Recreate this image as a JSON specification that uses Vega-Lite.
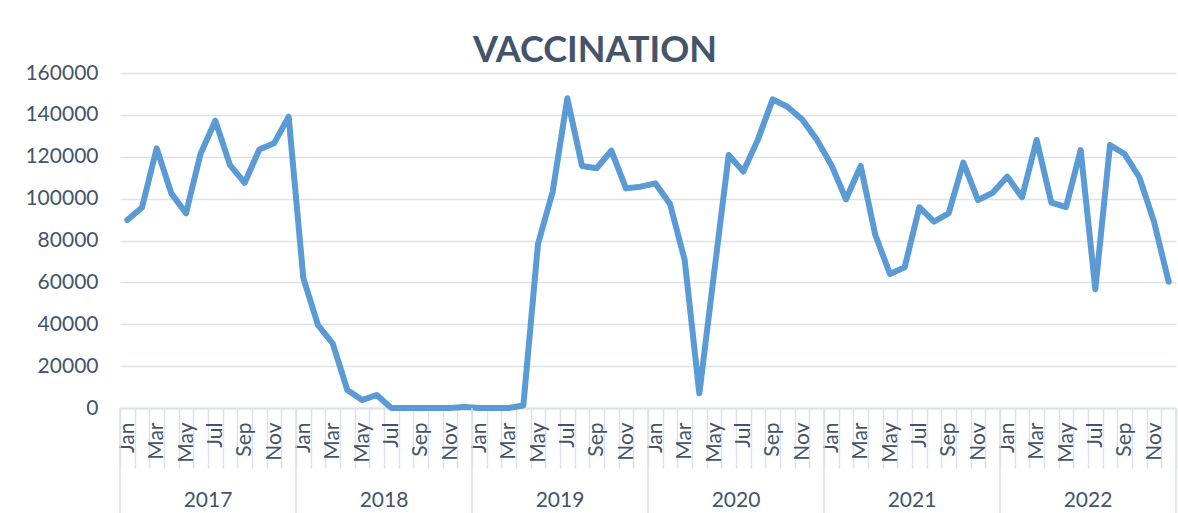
{
  "$schema": "https://vega.github.io/schema/vega-lite/v6.json",
  "width": 1056,
  "height": 335,
  "autosize": {"type": "none"},
  "padding": {"left": 120, "top": 73, "right": 2, "bottom": 105},
  "background": "#FFFFFF",
  "title": {
    "text": "VACCINATION",
    "font": "Lato",
    "fontSize": 36,
    "fontWeight": "bold",
    "color": "#44546A",
    "anchor": "middle",
    "frame": "group",
    "dx": -53,
    "dy": 36,
    "baseline": "alphabetic",
    "offset": 0
  },
  "config": {
    "view": {"stroke": null},
    "axis": {"labelFont": "Lato", "labelColor": "#44546A", "labelFontSize": 21}
  },
  "data": {
    "values": [
      {"period": "2017-01", "year": "2017", "value": 89800},
      {"period": "2017-02", "year": "2017", "value": 95800},
      {"period": "2017-03", "year": "2017", "value": 124000},
      {"period": "2017-04", "year": "2017", "value": 102500},
      {"period": "2017-05", "year": "2017", "value": 93000},
      {"period": "2017-06", "year": "2017", "value": 121600},
      {"period": "2017-07", "year": "2017", "value": 137200},
      {"period": "2017-08", "year": "2017", "value": 116000},
      {"period": "2017-09", "year": "2017", "value": 107600},
      {"period": "2017-10", "year": "2017", "value": 123500},
      {"period": "2017-11", "year": "2017", "value": 126400},
      {"period": "2017-12", "year": "2017", "value": 139100},
      {"period": "2018-01", "year": "2018", "value": 62000},
      {"period": "2018-02", "year": "2018", "value": 39600},
      {"period": "2018-03", "year": "2018", "value": 30900},
      {"period": "2018-04", "year": "2018", "value": 8600},
      {"period": "2018-05", "year": "2018", "value": 3800},
      {"period": "2018-06", "year": "2018", "value": 6200},
      {"period": "2018-07", "year": "2018", "value": 0},
      {"period": "2018-08", "year": "2018", "value": 0},
      {"period": "2018-09", "year": "2018", "value": 0},
      {"period": "2018-10", "year": "2018", "value": 0},
      {"period": "2018-11", "year": "2018", "value": 0},
      {"period": "2018-12", "year": "2018", "value": 500},
      {"period": "2019-01", "year": "2019", "value": 0},
      {"period": "2019-02", "year": "2019", "value": 0},
      {"period": "2019-03", "year": "2019", "value": 0},
      {"period": "2019-04", "year": "2019", "value": 1200},
      {"period": "2019-05", "year": "2019", "value": 78300},
      {"period": "2019-06", "year": "2019", "value": 103300},
      {"period": "2019-07", "year": "2019", "value": 147900},
      {"period": "2019-08", "year": "2019", "value": 115600},
      {"period": "2019-09", "year": "2019", "value": 114500},
      {"period": "2019-10", "year": "2019", "value": 122900},
      {"period": "2019-11", "year": "2019", "value": 104900},
      {"period": "2019-12", "year": "2019", "value": 105700},
      {"period": "2020-01", "year": "2020", "value": 107300},
      {"period": "2020-02", "year": "2020", "value": 97400},
      {"period": "2020-03", "year": "2020", "value": 70700},
      {"period": "2020-04", "year": "2020", "value": 7000},
      {"period": "2020-05", "year": "2020", "value": 64000},
      {"period": "2020-06", "year": "2020", "value": 120800},
      {"period": "2020-07", "year": "2020", "value": 112900},
      {"period": "2020-08", "year": "2020", "value": 128300},
      {"period": "2020-09", "year": "2020", "value": 147400},
      {"period": "2020-10", "year": "2020", "value": 143900},
      {"period": "2020-11", "year": "2020", "value": 137900},
      {"period": "2020-12", "year": "2020", "value": 128300},
      {"period": "2021-01", "year": "2021", "value": 116100},
      {"period": "2021-02", "year": "2021", "value": 99700},
      {"period": "2021-03", "year": "2021", "value": 115600},
      {"period": "2021-04", "year": "2021", "value": 82600},
      {"period": "2021-05", "year": "2021", "value": 64000},
      {"period": "2021-06", "year": "2021", "value": 67200},
      {"period": "2021-07", "year": "2021", "value": 95900},
      {"period": "2021-08", "year": "2021", "value": 89000},
      {"period": "2021-09", "year": "2021", "value": 93000},
      {"period": "2021-10", "year": "2021", "value": 117200},
      {"period": "2021-11", "year": "2021", "value": 99300},
      {"period": "2021-12", "year": "2021", "value": 102800},
      {"period": "2022-01", "year": "2022", "value": 110500},
      {"period": "2022-02", "year": "2022", "value": 100600},
      {"period": "2022-03", "year": "2022", "value": 128000},
      {"period": "2022-04", "year": "2022", "value": 98100},
      {"period": "2022-05", "year": "2022", "value": 95900},
      {"period": "2022-06", "year": "2022", "value": 123200},
      {"period": "2022-07", "year": "2022", "value": 56700},
      {"period": "2022-08", "year": "2022", "value": 125600},
      {"period": "2022-09", "year": "2022", "value": 121300},
      {"period": "2022-10", "year": "2022", "value": 110200},
      {"period": "2022-11", "year": "2022", "value": 89000},
      {"period": "2022-12", "year": "2022", "value": 60300}
    ]
  },
  "encoding": {
    "x": {
      "field": "period",
      "type": "ordinal",
      "sort": null,
      "scale": {"type": "band", "paddingInner": 0, "paddingOuter": 0},
      "axis": {
        "title": null,
        "orient": "bottom",
        "labelAngle": -90,
        "labelAlign": "right",
        "labelBaseline": "middle",
        "labelExpr": "isString(datum.value) ? ['Jan','','Mar','','May','','Jul','','Sep','','Nov',''][toNumber(substring(datum.value, 5, 7)) - 1] : ''",
        "labelPadding": -46,
        "labelOverlap": false,
        "labelFlush": false,
        "tickBand": "extent",
        "tickSize": 60,
        "tickColor": "#DDE2E9",
        "tickWidth": 1.5,
        "domainColor": "#DDE2E9",
        "domainWidth": 2,
        "grid": false
      }
    }
  },
  "layer": [
    {
      "mark": {"type": "line", "color": "#5B9BD5", "strokeWidth": 6, "strokeJoin": "round", "strokeCap": "round"},
      "encoding": {
        "x": {"field": "period", "type": "ordinal", "sort": null, "bandPosition": 0.5},
        "y": {
          "field": "value",
          "type": "quantitative",
          "scale": {"domain": [0, 160000], "nice": false},
          "axis": {
            "title": null,
            "values": [0, 20000, 40000, 60000, 80000, 100000, 120000, 140000, 160000],
            "format": "d",
            "ticks": false,
            "domain": false,
            "labelPadding": 22,
            "grid": true,
            "gridColor": "#DDE2E9",
            "gridWidth": 1.5
          }
        }
      }
    },
    {
      "transform": [{"filter": "substring(datum.period, 5, 7) == '01'"}],
      "mark": {"type": "rule", "color": "#DDE2E9", "strokeWidth": 1.5},
      "encoding": {
        "x": {"field": "period", "type": "ordinal", "sort": null, "bandPosition": 0},
        "y": {"datum": 0, "type": "quantitative"},
        "y2": {"datum": -50200}
      }
    },
    {
      "transform": [{"filter": "datum.period == '2022-12'"}],
      "mark": {"type": "rule", "color": "#DDE2E9", "strokeWidth": 1.5},
      "encoding": {
        "x": {"field": "period", "type": "ordinal", "sort": null, "bandPosition": 1},
        "y": {"datum": 0, "type": "quantitative"},
        "y2": {"datum": -50200}
      }
    },
    {
      "transform": [{"filter": "substring(datum.period, 5, 7) == '07'"}],
      "mark": {"type": "text", "font": "Lato", "fontSize": 21, "color": "#44546A", "baseline": "alphabetic", "align": "center", "dy": 99},
      "encoding": {
        "x": {"field": "period", "type": "ordinal", "sort": null, "bandPosition": 0},
        "y": {"datum": 0, "type": "quantitative"},
        "text": {"field": "year"}
      }
    }
  ]
}
